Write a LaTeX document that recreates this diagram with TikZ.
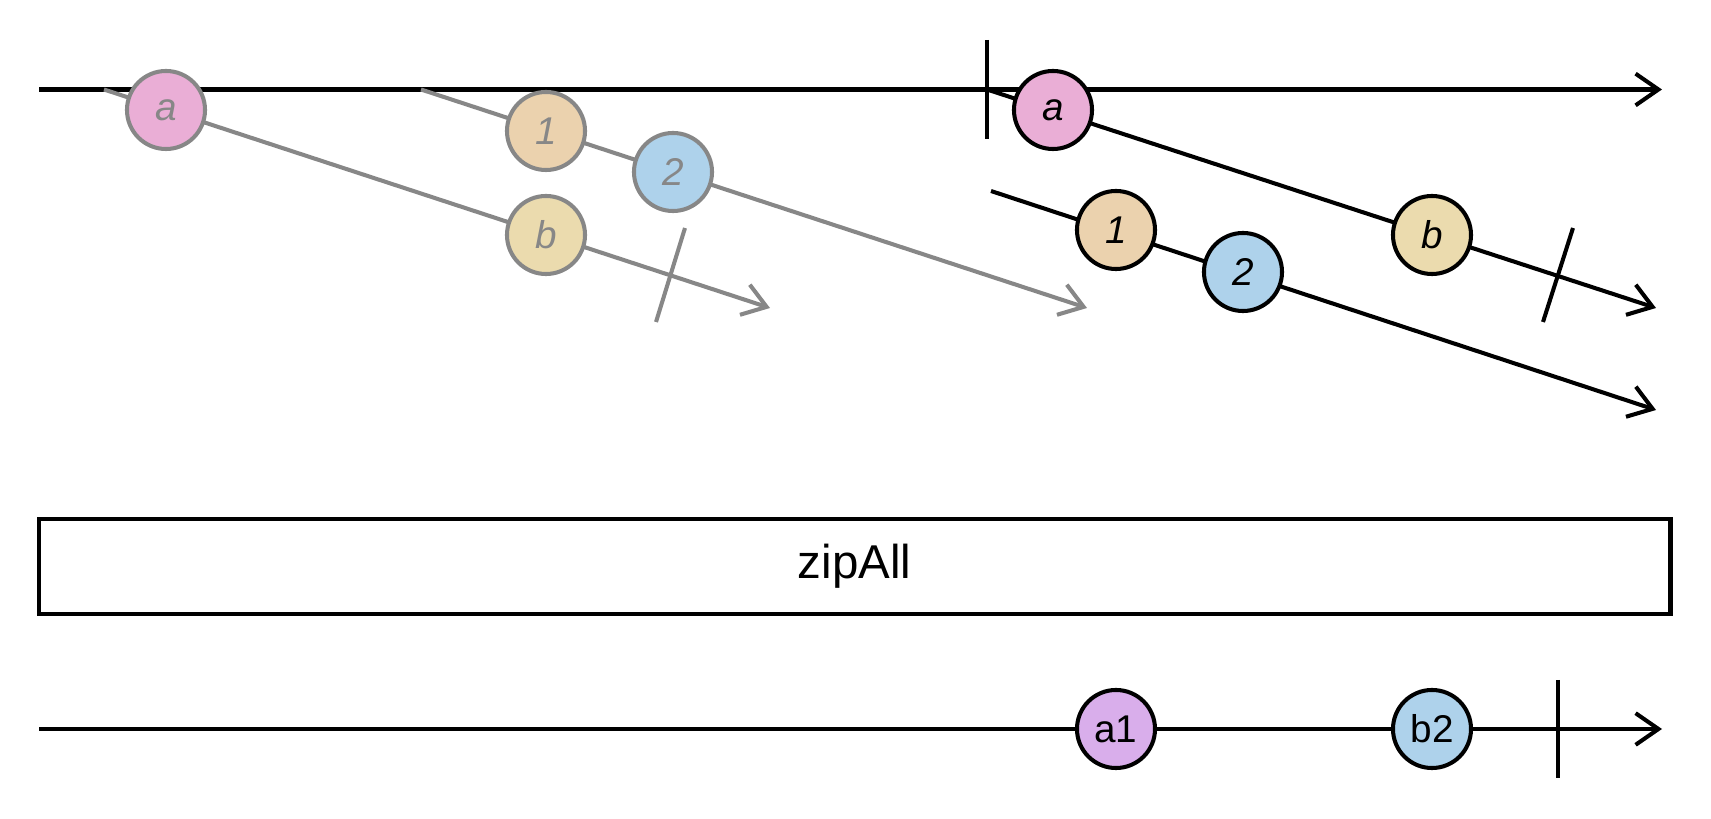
\documentclass[tikz,border=0pt]{standalone}
\usepackage{fontspec}
\setmainfont{Liberation Sans}
\usepackage{tikz}
\usetikzlibrary{arrows.meta}
\definecolor{marblepink}{RGB}{234,174,214}
\definecolor{marbleorange}{RGB}{235,210,174}
\definecolor{marbleblue}{RGB}{174,210,235}
\definecolor{marbleyellow}{RGB}{235,219,174}
\definecolor{marblepurple}{RGB}{217,174,235}
\definecolor{fadedgray}{RGB}{135,135,135}

\begin{document}
\begin{tikzpicture}[x=0.01cm,y=-0.01cm,
    timeline/.style={line width=1.15pt, -{Straight Barb[length=6.5pt,width=9pt]}},
    stopper/.style={line width=1.15pt},
    marble/.style={circle, draw, line width=1.15pt, minimum size=0.78cm, inner sep=0pt,
      font=\fontsize{11}{13}\selectfont\itshape},
    result/.style={circle, draw, line width=1.15pt, minimum size=0.78cm, inner sep=0pt,
      font=\fontsize{11}{13}\selectfont},
    faded/.style={draw=fadedgray, text=fadedgray}]
    \useasboundingbox (0,0) rectangle (1711,819);

    % Outer source timeline
    \coordinate (srcstart) at (39,89.5);
    \coordinate (srcend) at (1662,89.5);
    \draw[timeline] (srcstart) -- (srcend);
    \coordinate (srcdone1) at (987,40);
    \coordinate (srcdone2) at (987,139);
    \draw[stopper] (srcdone1) -- (srcdone2);

    % First inner stream (faded)
    \coordinate (fa) at (104,89.5);
    \coordinate (fb) at (770,308);
    \draw[timeline, fadedgray] (fa) -- (fb);
    \coordinate (fadone1) at (685,228);
    \coordinate (fadone2) at (656,322);
    \draw[stopper, fadedgray] (fadone1) -- (fadone2);
    \node[marble, faded, fill=marblepink] (fa-a) at (166,110) {a};
    \node[marble, faded, fill=marbleyellow] (fa-b) at (546,235) {b};

    % Second inner stream (faded)
    \coordinate (fn) at (421,89.5);
    \coordinate (fm) at (1087,308);
    \draw[timeline, fadedgray] (fn) -- (fm);
    \node[marble, faded, fill=marbleorange] (fn-1) at (546,131) {1};
    \node[marble, faded, fill=marbleblue] (fn-2) at (673,172) {2};

    % First inner stream
    \coordinate (ia) at (987,89.5);
    \coordinate (ib) at (1656,308);
    \draw[timeline] (ia) -- (ib);
    \coordinate (iadone1) at (1573,228);
    \coordinate (iadone2) at (1543,322);
    \draw[stopper] (iadone1) -- (iadone2);
    \node[marble, fill=marblepink] (ia-a) at (1053,110) {a};
    \node[marble, fill=marbleyellow] (ia-b) at (1432,235) {b};

    % Second inner stream
    \coordinate (in) at (991,191);
    \coordinate (im) at (1656,410);
    \draw[timeline] (in) -- (im);
    \node[marble, fill=marbleorange] (in-1) at (1116,230) {1};
    \node[marble, fill=marbleblue] (in-2) at (1243,272) {2};

    % Operator box
    \node[draw, line width=1.15pt, minimum width=16.31cm, minimum height=0.95cm,
      font=\fontsize{13.5}{16}\selectfont] (op) at (854.5,566.5) {zipAll};

    % Output timeline
    \coordinate (outstart) at (39,729);
    \coordinate (outend) at (1662,729);
    \draw[timeline] (outstart) -- (outend);
    \coordinate (outdone1) at (1558,680);
    \coordinate (outdone2) at (1558,778);
    \draw[stopper] (outdone1) -- (outdone2);
    \node[result, fill=marblepurple] (out-a1) at (1116,729) {a1};
    \node[result, fill=marbleblue] (out-b2) at (1432,729) {b2};
\end{tikzpicture}
\end{document}
